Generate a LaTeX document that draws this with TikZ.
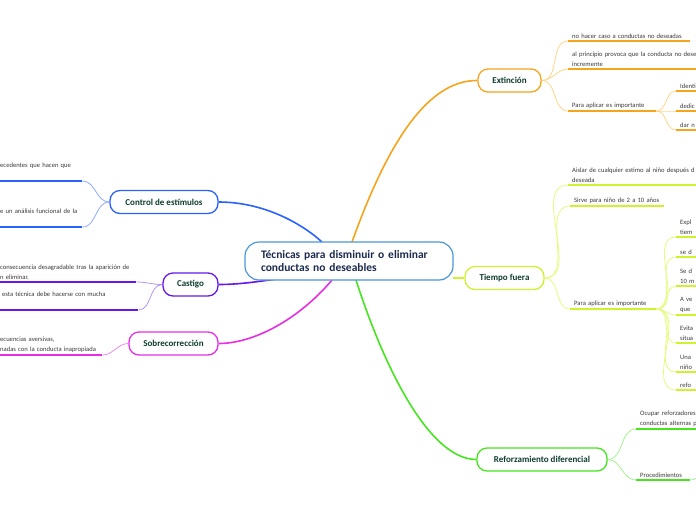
\documentclass[tikz,border=0pt]{standalone}
\usepackage{fontspec}
\setmainfont{Carlito}
\usepackage{tikz}
\usetikzlibrary{backgrounds}
\definecolor{hubC}{HTML}{4C97D6}
\definecolor{hubT}{HTML}{1B2A4E}
\definecolor{nodeT}{HTML}{0E3D2F}
\definecolor{leafT}{HTML}{3A3A3A}
\definecolor{orD}{HTML}{F7A41D}
\definecolor{orL}{HTML}{FFD58A}
\definecolor{blD}{HTML}{2962FF}
\definecolor{blL}{HTML}{8FA9FF}
\definecolor{puD}{HTML}{6418EC}
\definecolor{puL}{HTML}{B596F7}
\definecolor{maD}{HTML}{E62EE6}
\definecolor{maL}{HTML}{F38AF3}
\definecolor{yeD}{HTML}{CFF22E}
\definecolor{yeL}{HTML}{E6FA80}
\definecolor{grD}{HTML}{46E520}
\definecolor{grL}{HTML}{A4F290}
\tikzset{
  hub/.style={rectangle, draw=hubC, line width=1.2pt, fill=white,
              rounded corners=14pt, minimum width=208pt, minimum height=38pt,
              text width=176pt, inner xsep=16pt, align=left, text=hubT,
              font=\bfseries\fontsize{11.5}{13.5}\selectfont},
  topic/.style={rectangle, line width=1.3pt, fill=white, rounded corners=10pt,
                minimum height=23pt, inner xsep=6pt, text=nodeT,
                font=\bfseries\fontsize{9}{10}\selectfont},
  leaf/.style={anchor=south west, inner xsep=4pt, inner ysep=2.5pt,
               align=left, text=leafT, font=\fontsize{6.6}{9.5}\selectfont},
  trunk/.style={line width=1.6pt},
  twig/.style={line width=0.8pt},
  uline/.style={line width=1.8pt},
}
\begin{document}
\begin{tikzpicture}[x=1pt, y=-1pt]
  \useasboundingbox (0,0) rectangle (696,520);

  % Central topic
  \node[hub] (hub) at (349,261) {Técnicas para disminuir o eliminar\\conductas no deseables};
  \coordinate (h-ext) at (352,242);
  \coordinate (h-ctl) at (322,242);
  \coordinate (h-cas) at (277,279);
  \coordinate (h-sob) at (332,280);
  \coordinate (h-tie) at (453,278);
  \coordinate (h-ref) at (356,280);

  % Main topics
  \node[topic, draw=orD, minimum width=63pt]  (ext) at (509.5,80.5) {Extinción};
  \node[topic, draw=blD, minimum width=108pt] (ctl) at (164,202)    {Control de estímulos};
  \node[topic, draw=puD, minimum width=55pt]  (cas) at (190.5,284.5) {Castigo};
  \node[topic, draw=maD, minimum width=89pt]  (sob) at (173.5,343.5) {Sobrecorrección};
  \node[topic, draw=yeD, minimum width=79pt]  (tie) at (504.5,278)  {Tiempo fuera};
  \node[topic, draw=grD, minimum width=130pt] (ref) at (542,459.5)  {Reforzamiento diferencial};

  % Extincion leaves
  \node[leaf, text width=114pt] (ext1) at (568,41)  {no hacer caso a conductas no deseadas};
  \node[leaf, text width=140pt] (ext2) at (568,69)  {al principio provoca que la conducta no dese\\incremente};
  \node[leaf, text width=80pt]  (ext3) at (568,111) {Para aplicar es importante};
  \node[leaf, text width=40pt]  (ext31) at (676,91)  {Identi};
  \node[leaf, text width=40pt]  (ext32) at (676,111) {dedic};
  \node[leaf, text width=40pt]  (ext33) at (676,130) {dar n};

  % Tiempo fuera leaves
  \node[leaf, text width=140pt] (tie1) at (568,185) {Aislar de cualquier estimo al niño después d\\deseada};
  \node[leaf, text width=86pt]  (tie2) at (570,206) {Sirve para niño de 2 a 10 años};
  \node[leaf, text width=78pt]  (tie3) at (570,309) {Para aplicar es importante};
  \node[leaf, text width=40pt]  (tie31) at (676,237) {Expl\\tiem};
  \node[leaf, text width=40pt]  (tie32) at (676,257) {se d};
  \node[leaf, text width=40pt]  (tie33) at (676,286) {Se d\\10 m};
  \node[leaf, text width=40pt]  (tie34) at (676,315) {A ve\\que};
  \node[leaf, text width=40pt]  (tie35) at (676,343) {Evita\\situa};
  \node[leaf, text width=40pt]  (tie36) at (676,372) {Una\\niño};
  \node[leaf, text width=40pt]  (tie37) at (676,390) {refo};

  % Reforzamiento leaves
  \node[leaf, text width=80pt]  (ref1) at (636,429) {Ocupar reforzadores\\conductas alternas p};
  \node[leaf, text width=46pt]  (ref2) at (636,480) {Procedimientos};
  \coordinate (ref2-next) at (712,468);

  % Left leaves
  \node[leaf, text width=78pt, text depth=11pt]  (ctl1) at (-4,181) {ecedentes que hacen que};
  \node[leaf, text width=78pt, text depth=11pt]  (ctl2) at (-4,227) {e un análisis funcional de la};
  \node[leaf, text width=132pt] (cas1) at (-4,282) {consecuencia desagradable tras la aparición de\\n eliminar.};
  \node[leaf, text width=132pt, text depth=11pt] (cas2) at (-2,310) {esta técnica debe hacerse con mucha};
  \node[leaf, text width=98pt]  (sob1) at (-4,355) {ecuencias aversivas,\\nadas con la conducta inapropiada};

  \begin{scope}[on background layer]
    % Trunks
    \draw[trunk, orD] (h-ext) .. controls (385,150) and (425,80) .. (ext.west);
    \draw[trunk, blD] (h-ctl) .. controls (300,222) and (262,202) .. (ctl.east);
    \draw[trunk, puD] (h-cas) .. controls (255,282) and (238,284.5) .. (cas.east);
    \draw[trunk, maD] (h-sob) .. controls (300,318) and (255,343.5) .. (sob.east);
    \draw[trunk, yeD] (h-tie) -- (tie.west);
    \draw[trunk, grD] (h-ref) .. controls (385,370) and (430,459.5) .. (ref.west);

    % Twigs
    \foreach \n in {ext1,ext2,ext3}
      \draw[twig, orL] (ext.east) to[out=0, in=180] (\n.south west);
    \foreach \n in {ext31,ext32,ext33}
      \draw[twig, orL] (ext3.south east) to[out=0, in=180] (\n.south west);
    \foreach \n in {tie1,tie2,tie3}
      \draw[twig, yeL] (tie.east) to[out=0, in=180] (\n.south west);
    \foreach \n in {tie31,tie32,tie33,tie34,tie35,tie36,tie37}
      \draw[twig, yeL] (tie3.south east) to[out=0, in=180] (\n.south west);
    \foreach \n in {ref1,ref2}
      \draw[twig, grL] (ref.east) to[out=0, in=180] (\n.south west);
    \draw[twig, grL] (ref2.south east) to[out=0, in=180] (ref2-next);
    \foreach \n in {ctl1,ctl2}
      \draw[twig, blL] (ctl.west) to[out=180, in=0] (\n.south east);
    \foreach \n in {cas1,cas2}
      \draw[twig, puL] (cas.west) to[out=180, in=0] (\n.south east);
    \draw[twig, maL] (sob.west) to[out=180, in=0] (sob1.south east);
  \end{scope}

  % Underlines
  \foreach \n in {ext1,ext2,ext3,ext31,ext32,ext33}
    \draw[uline, orD] (\n.south west) -- (\n.south east);
  \foreach \n in {tie1,tie2,tie3,tie31,tie32,tie33,tie34,tie35,tie36,tie37}
    \draw[uline, yeD] (\n.south west) -- (\n.south east);
  \foreach \n in {ref1,ref2}
    \draw[uline, grD] (\n.south west) -- (\n.south east);
  \foreach \n in {ctl1,ctl2}
    \draw[uline, blD] (\n.south west) -- (\n.south east);
  \foreach \n in {cas1,cas2}
    \draw[uline, puD] (\n.south west) -- (\n.south east);
  \draw[uline, maD] (sob1.south west) -- (sob1.south east);

\end{tikzpicture}
\end{document}
